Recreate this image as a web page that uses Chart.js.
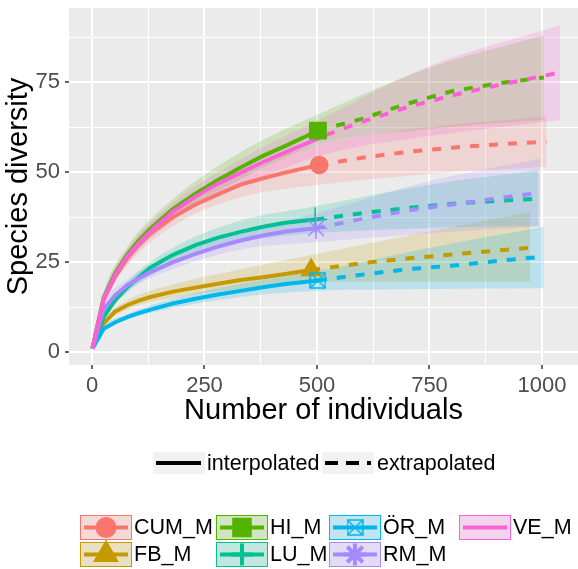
<!DOCTYPE html>
<html>
<head>
<meta charset="utf-8">
<script src="https://cdn.jsdelivr.net/npm/chart.js@4.4.1/dist/chart.umd.min.js"></script>
<style>
html, body { margin: 0; padding: 0; background: #ffffff; }
#wrap { width: 578px; height: 569px; }
</style>
</head>
<body>
<div id="wrap"><canvas id="myChart" width="578" height="569"></canvas></div>
<script>
// ---- data ----
const sites = ["CUM_M", "FB_M", "HI_M", "LU_M", "ÖR_M", "RM_M", "VE_M"];
const siteColors = ["#F8766D", "#C49A00", "#53B400", "#00C094", "#00B6EB", "#A58AFF", "#FB61D7"];
const xTicks = [0, 250, 500, 750, 1000];
const yTicks = [0, 25, 50, 75];

// sample size and observed diversity (the marker)
const sampleN = [505, 487, 502, 496, 502, 498, 520];
const observedS = [52, 22.8, 61.5, 36.8, 19.9, 34.4, 60.3];

// interpolated part (rarefaction)
const rareX = [1, 26, 52, 78, 104, 130, 180, 230, 280, 330, 380, 430];
const rareCUM = [1, 14.5, 21, 26, 29.8, 33, 37.5, 41, 43.8, 46.5, 48.3, 49.9];
const rareFB  = [1, 8, 11.3, 13, 14.3, 15.3, 16.8, 17.9, 19, 20, 20.8, 21.7];
const rareHI  = [1, 15.2, 22, 27, 31, 34.3, 39.7, 44, 47.8, 51.3, 54.5, 57.3];
const rareLU  = [1, 9.8, 14.5, 18, 20.8, 23.5, 27, 29.7, 31.8, 33.4, 34.8, 35.9];
const rareOR  = [1, 6.5, 8.3, 9.7, 10.8, 11.8, 13.5, 14.8, 16, 17, 18, 18.9];
const rareRM  = [1, 12, 15.8, 18.5, 20.5, 22.2, 25, 27.3, 29.3, 31, 32.4, 33.5];
const rareVE  = [1, 14.8, 21.5, 26.5, 30.3, 33.6, 39, 43.2, 46.8, 49.8, 52.8, 55.5];

// extrapolated part (up to twice the sample size)
const extX = [600, 700, 800, 900];
const endN = [1010, 974, 1004, 992, 1004, 996, 1040];
const extCUM = [54, 55.6, 56.8, 57.7, 58.5];
const extFB  = [24.7, 26, 27.1, 28.2, 29];
const extHI  = [64.8, 69, 72.5, 74.6, 76.3];
const extLU  = [38.6, 40, 41.2, 42, 42.6];
const extOR  = [21.5, 23, 24, 25.3, 26.5];
const extRM  = [37, 39.3, 41, 42.7, 44.3];
const extVE  = [64, 68, 71.3, 74.1, 77.7];

// confidence bands at 1, 26, 78, 180, 330, n, 750, end
const bandX = [1, 26, 78, 180, 330];
const lowCUM = [1, 13.5, 24, 35, 43, 46.5, 49.5, 51.5];
const uppCUM = [1, 15.5, 28, 40.5, 50.5, 57.5, 62.5, 65.5];
const lowFB  = [1, 7.3, 11.8, 15, 17.5, 19.5, 19.5, 19.5];
const uppFB  = [1, 8.7, 14.3, 18.8, 23, 27, 33.5, 39];
const lowHI  = [1, 14, 25, 37, 48, 57.5, 62, 64.5];
const uppHI  = [1, 16.5, 29.2, 42.5, 55.5, 66, 79, 88];
const lowLU  = [1, 9, 16.5, 24.5, 30.5, 33, 34.5, 35];
const uppLU  = [1, 10.6, 19.5, 29, 36.5, 40.5, 46.5, 50.5];
const lowOR  = [1, 6, 9, 12.3, 15.3, 17, 17.5, 17.7];
const uppOR  = [1, 7, 10.5, 14.8, 19, 22.5, 29, 34.8];
const lowRM  = [1, 11, 17, 23, 28.5, 30.5, 33, 34.8];
const uppRM  = [1, 13, 20, 27, 33.5, 38.5, 47.5, 53.8];
const lowVE  = [1, 13.8, 24.5, 36.5, 46, 55, 60, 64.5];
const uppVE  = [1, 15.8, 28.5, 41.5, 53.5, 65.5, 79.5, 90.8];

const rareY = [rareCUM, rareFB, rareHI, rareLU, rareOR, rareRM, rareVE];
const extY = [extCUM, extFB, extHI, extLU, extOR, extRM, extVE];
const lowY = [lowCUM, lowFB, lowHI, lowLU, lowOR, lowRM, lowVE];
const uppY = [uppCUM, uppFB, uppHI, uppLU, uppOR, uppRM, uppVE];

// ---- styles ----
const FONT = "'Liberation Sans', Arial, sans-serif";

const hexToRgba = (hex, a) => {
    const n = parseInt(hex.slice(1), 16);
    return `rgba(${(n >> 16) & 255}, ${(n >> 8) & 255}, ${n & 255}, ${a})`;
};

const makeBoxTimes = (color, size) => {
    const c = document.createElement("canvas");
    c.width = size;
    c.height = size;
    const g = c.getContext("2d");
    g.strokeStyle = color;
    g.lineWidth = 1.5;
    g.strokeRect(1, 1, size - 2, size - 2);
    g.beginPath();
    g.moveTo(1, 1); g.lineTo(size - 1, size - 1);
    g.moveTo(size - 1, 1); g.lineTo(1, size - 1);
    g.stroke();
    return c;
};

const shapes = [
    { style: "circle", radius: 8.5 },
    { style: "triangle", radius: 11 },
    { style: "rect", radius: 11.5 },
    { style: "cross", radius: 12 },
    { style: makeBoxTimes(siteColors[4], 17), radius: 9 },
    { style: "star", radius: 11 },
    null
];

// ---- datasets ----
// ggplot draws later groups on top; in Chart.js a lower order is drawn on top
const datasets = [];

for (let i = 0; i < sites.length; i++) {
    const color = siteColors[i];
    const n = sampleN[i];
    const bx = bandX.concat([n, 750, endN[i]]);

    datasets.push({
        label: sites[i] + " low",
        data: bx.map((x, k) => ({ x: x, y: lowY[i][k] })),
        borderWidth: 0,
        pointRadius: 0,
        cubicInterpolationMode: "monotone",
        fill: false,
        order: 300 - i
    });
    datasets.push({
        label: sites[i] + " band",
        data: bx.map((x, k) => ({ x: x, y: uppY[i][k] })),
        borderWidth: 0,
        pointRadius: 0,
        cubicInterpolationMode: "monotone",
        backgroundColor: hexToRgba(color, 0.2),
        fill: "-1",
        order: 300 - i
    });
}

for (let i = 0; i < sites.length; i++) {
    const color = siteColors[i];
    const n = sampleN[i];
    const interp = rareX.map((x, k) => ({ x: x, y: rareY[i][k] }));
    interp.push({ x: n, y: observedS[i] });

    const ex = [{ x: n, y: observedS[i] }];
    extX.concat([endN[i]]).forEach((x, k) => ex.push({ x: x, y: extY[i][k] }));

    datasets.push({
        label: sites[i] + " interpolated",
        data: interp,
        borderColor: color,
        borderWidth: 4,
        pointRadius: 0,
        fill: false,
        order: 200 - i
    });
    datasets.push({
        label: sites[i] + " extrapolated",
        data: ex,
        borderColor: color,
        borderWidth: 4,
        borderDash: [9, 10],
        borderCapStyle: "butt",
        pointRadius: 0,
        fill: false,
        order: 200 - i
    });

    if (shapes[i] !== null) {
        datasets.push({
            label: sites[i] + " observed",
            data: [{ x: n, y: observedS[i] }],
            showLine: false,
            pointStyle: shapes[i].style,
            pointRadius: shapes[i].radius,
            pointBackgroundColor: color,
            pointBorderColor: color,
            pointBorderWidth: 1.5,
            order: 100 - i
        });
    }
}

// ---- plugins ----
const panelBackground = {
    id: "panelBackground",
    beforeDraw: (chart) => {
        const { ctx, chartArea } = chart;
        ctx.save();
        ctx.fillStyle = "#EBEBEB";
        ctx.fillRect(chartArea.left, chartArea.top, chartArea.right - chartArea.left, chartArea.bottom - chartArea.top);
        ctx.restore();
    }
};

const legends = {
    id: "legends",
    afterDraw: (chart) => {
        const ctx = chart.ctx;
        ctx.save();
        ctx.font = "21.5px " + FONT;
        ctx.textBaseline = "middle";
        ctx.textAlign = "left";

        // line type legend
        ctx.fillStyle = "#F2F2F2";
        ctx.fillRect(153, 452, 52, 22);
        ctx.fillRect(322, 452, 52, 22);
        ctx.strokeStyle = "#000000";
        ctx.lineWidth = 4;
        ctx.beginPath();
        ctx.moveTo(156, 463); ctx.lineTo(201, 463);
        ctx.stroke();
        ctx.setLineDash([13, 8]);
        ctx.beginPath();
        ctx.moveTo(325, 463); ctx.lineTo(371, 463);
        ctx.stroke();
        ctx.setLineDash([]);
        ctx.fillStyle = "#000000";
        ctx.fillText("interpolated", 207, 464);
        ctx.fillText("extrapolated", 377, 464);

        // colour legend, filled by column
        const keyX = [80, 216, 329, 459];
        const keyY = [515, 542];
        for (let i = 0; i < sites.length; i++) {
            const col = Math.floor(i / 2);
            const row = i % 2;
            const x = keyX[col];
            const y = keyY[row];
            const color = siteColors[i];

            ctx.fillStyle = "#F2F2F2";
            ctx.fillRect(x, y, 52, 25);
            ctx.fillStyle = hexToRgba(color, 0.2);
            ctx.fillRect(x, y, 52, 25);
            ctx.strokeStyle = color;
            ctx.lineWidth = 1;
            ctx.strokeRect(x + 0.5, y + 0.5, 51, 24);

            ctx.lineWidth = 4;
            ctx.beginPath();
            ctx.moveTo(x + 4, y + 12.5); ctx.lineTo(x + 48, y + 12.5);
            ctx.stroke();

            if (shapes[i] !== null) {
                ctx.fillStyle = color;
                ctx.strokeStyle = color;
                Chart.helpers.drawPoint(ctx, {
                    pointStyle: shapes[i].style,
                    radius: Math.min(shapes[i].radius, 11),
                    borderWidth: 1.5,
                    rotation: 0
                }, x + 26, y + 12.5);
            }

            ctx.fillStyle = "#000000";
            ctx.fillText(sites[i], x + 54, y + 13.5);
        }
        ctx.restore();
    }
};

// ---- scales ----
const xAll = [0, 125, 250, 375, 500, 625, 750, 875, 1000];
const yAll = [0, 12.5, 25, 37.5, 50, 62.5, 75, 87.5];

const noPadding = (scale) => {
    scale.paddingLeft = 0;
    scale.paddingRight = 0;
    scale.paddingTop = 0;
    scale.paddingBottom = 0;
};

const ctx = document.getElementById("myChart").getContext("2d");
const myChart = new Chart(ctx, {
    type: "line",
    data: { datasets: datasets },
    options: {
        responsive: false,
        animation: false,
        devicePixelRatio: 1,
        layout: { autoPadding: false, padding: { top: 8, left: 0, right: 0, bottom: 0 } },
        plugins: {
            legend: { display: false },
            tooltip: { enabled: false }
        },
        scales: {
            x: {
                type: "linear",
                min: -51.1,
                max: 1080,
                afterBuildTicks: (scale) => { scale.ticks = xAll.map(v => ({ value: v })); },
                afterFit: (scale) => { scale.height = 204; noPadding(scale); },
                ticks: {
                    autoSkip: false,
                    maxRotation: 0,
                    padding: 4,
                    color: "#4D4D4D",
                    font: { family: FONT, size: 22 },
                    callback: (v) => xTicks.includes(v) ? String(v) : ""
                },
                grid: {
                    color: "#FFFFFF",
                    lineWidth: (c) => xTicks.includes(c.tick.value) ? 2 : 1,
                    tickColor: (c) => xTicks.includes(c.tick.value) ? "#333333" : "rgba(0,0,0,0)",
                    tickLength: 4,
                    tickWidth: 1.5
                },
                border: { display: false },
                title: {
                    display: true,
                    text: "Number of individuals",
                    color: "#000000",
                    font: { family: FONT, size: 29 },
                    padding: { top: 0, bottom: 141 }
                }
            },
            y: {
                type: "linear",
                min: -3.6,
                max: 95.6,
                afterBuildTicks: (scale) => { scale.ticks = yAll.map(v => ({ value: v })); },
                afterFit: (scale) => { scale.width = 69; noPadding(scale); },
                ticks: {
                    autoSkip: false,
                    padding: 5,
                    color: "#4D4D4D",
                    font: { family: FONT, size: 22 },
                    callback: (v) => yTicks.includes(v) ? String(v) : ""
                },
                grid: {
                    color: "#FFFFFF",
                    lineWidth: (c) => yTicks.includes(c.tick.value) ? 2 : 1,
                    tickColor: (c) => yTicks.includes(c.tick.value) ? "#333333" : "rgba(0,0,0,0)",
                    tickLength: 4,
                    tickWidth: 1.5
                },
                border: { display: false },
                title: {
                    display: true,
                    text: "Species diversity",
                    color: "#000000",
                    font: { family: FONT, size: 29 },
                    padding: { top: 2, bottom: 0 }
                }
            }
        }
    },
    plugins: [panelBackground, legends]
});
</script>
</body>
</html>
